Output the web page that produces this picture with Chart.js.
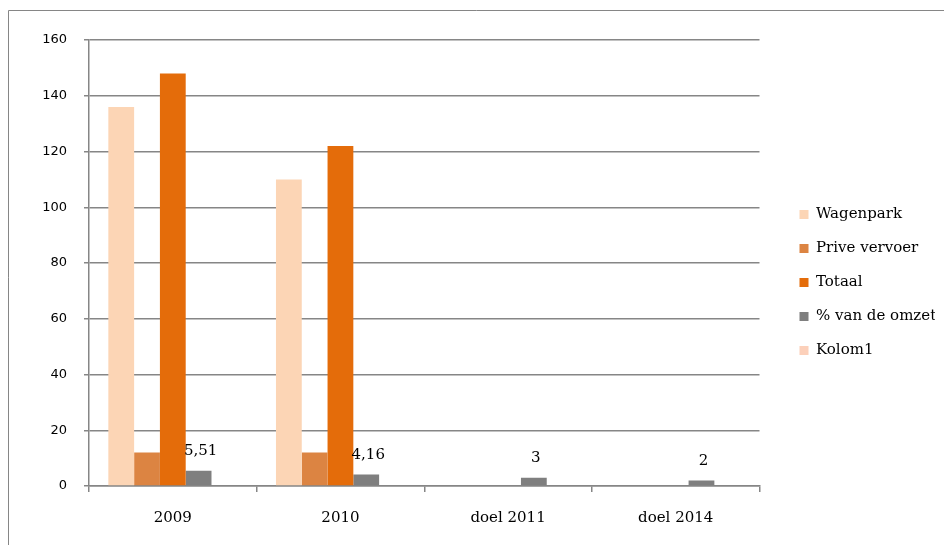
<!DOCTYPE html>
<html>
<head>
<meta charset="utf-8">
<script src="https://cdn.jsdelivr.net/npm/chart.js"></script>
<style>
  html, body { margin: 0; padding: 0; background: #fff; }
  #wrap { width: 944px; height: 545px; }
</style>
</head>
<body>
<div id="wrap"><canvas id="chart"></canvas></div>
<script>
const categories = ['2009', '2010', 'doel 2011', 'doel 2014'];
const wagenpark = [136, 110, null, null];
const priveVervoer = [12, 12, null, null];
const totaal = [148, 122, null, null];
const procentOmzet = [5.51, 4.16, 3, 2];
const kolom1 = [null, null, null, null];
const yTicks = [0, 20, 40, 60, 80, 100, 120, 140, 160];

const GRID = '#868686';
const SERIF = '"DejaVu Serif", serif';

// outer frame of the chart object (only top and left edges are in view)
const framePlugin = {
  id: 'frame',
  beforeDraw(chart) {
    const ctx = chart.ctx;
    ctx.save();
    ctx.strokeStyle = GRID;
    ctx.lineWidth = 1;
    ctx.beginPath();
    ctx.moveTo(8.5, chart.height);
    ctx.lineTo(8.5, 10.5);
    ctx.lineTo(chart.width, 10.5);
    ctx.stroke();
    ctx.restore();
  }
};

// value labels on the "% van de omzet" bars
const labelPlugin = {
  id: 'valueLabels',
  afterDatasetsDraw(chart) {
    const ctx = chart.ctx;
    const meta = chart.getDatasetMeta(3);
    ctx.save();
    ctx.font = '15px ' + SERIF;
    ctx.fillStyle = '#000';
    ctx.textAlign = 'center';
    ctx.textBaseline = 'bottom';
    meta.data.forEach((bar, i) => {
      const v = procentOmzet[i];
      if (v == null) return;
      ctx.fillText(String(v).replace('.', ','), bar.x + 2, bar.y - 12);
    });
    ctx.restore();
  }
};

new Chart(document.getElementById('chart'), {
  type: 'bar',
  data: {
    labels: categories,
    datasets: [
      { label: 'Wagenpark', data: wagenpark, backgroundColor: '#FCD5B5' },
      { label: 'Prive vervoer', data: priveVervoer, backgroundColor: '#DC8442' },
      { label: 'Totaal', data: totaal, backgroundColor: '#E46C0A' },
      { label: '% van de omzet', data: procentOmzet, backgroundColor: '#7F7F7F' },
      { label: 'Kolom1', data: kolom1, backgroundColor: '#FCD0BA' }
    ]
  },
  options: {
    responsive: true,
    maintainAspectRatio: false,
    animation: false,
    categoryPercentage: 5 / 6.5,
    barPercentage: 1,
    layout: { padding: { left: 8, top: 40, right: 9, bottom: 20 } },
    plugins: {
      tooltip: { enabled: false },
      legend: {
        position: 'right',
        align: 'center',
        labels: {
          boxWidth: 9,
          boxHeight: 9,
          padding: 19,
          color: '#000',
          font: { family: SERIF, size: 15 }
        }
      }
    },
    scales: {
      x: {
        grid: { display: true, drawOnChartArea: false, color: GRID, lineWidth: 1.5, tickLength: 6, offset: true },
        border: { display: true, color: GRID, width: 1.5 },
        ticks: { color: '#000', padding: 17, font: { family: SERIF, size: 15 } },
        afterFit(s) { s.height = 39; }
      },
      y: {
        min: 0,
        max: 160,
        afterBuildTicks(s) { s.ticks = yTicks.map(v => ({ value: v })); },
        grid: { color: GRID, lineWidth: 1.5, tickLength: 5 },
        border: { display: true, color: GRID, width: 1.5 },
        ticks: { color: '#000', padding: 17, font: { family: '"DejaVu Sans", sans-serif', size: 13 } },
        afterFit(s) { s.width = 81; }
      },
      gap: {
        position: 'right',
        display: true,
        grid: { display: false },
        border: { display: false },
        ticks: { display: false },
        afterFit(s) { s.width = 21; }
      }
    }
  },
  plugins: [framePlugin, labelPlugin]
});
</script>
</body>
</html>
